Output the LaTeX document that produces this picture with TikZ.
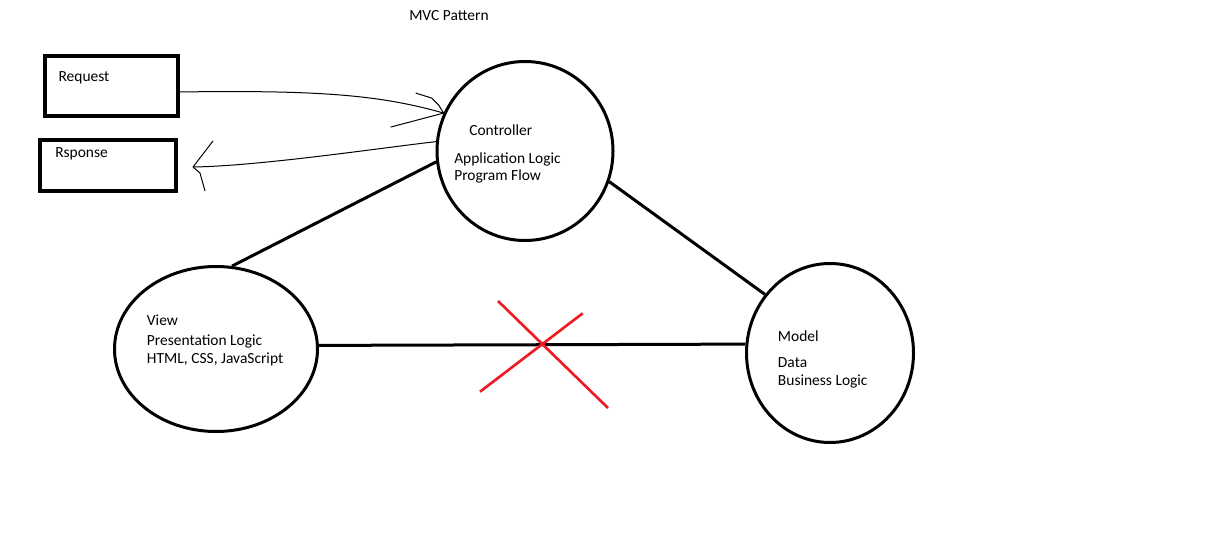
\documentclass[tikz,border=0pt]{standalone}
\usepackage{fontspec}
\setmainfont{Carlito}
\usetikzlibrary{shapes.geometric}
\usetikzlibrary{positioning}
\definecolor{xred}{RGB}{237,28,36}
\tikzset{
  blob/.style={draw,ellipse,line width=2.25pt,inner sep=0pt},
  box/.style={draw,rectangle,line width=3pt,inner sep=0pt},
  lbl/.style={anchor=base west,inner sep=0pt,font=\fontsize{11.6}{14}\selectfont},
  link/.style={line width=2.25pt},
  wire/.style={line width=0.75pt},
  cross/.style={draw=xred,line width=2pt}
}

\begin{document}
\begin{tikzpicture}[x=0.75pt,y=-0.75pt]
      \useasboundingbox (0,0) rectangle (1230,545);
      \node[lbl] (title) at (409,21) {MVC Pattern};
      % boxes
      \node[box,minimum width=99.5pt,minimum height=44.5pt] (req) at (111.7,86) {};
      \node[box,minimum width=101.5pt,minimum height=38.25pt] (resp) at (108,165.2) {};
      \node[lbl] (reqtext) at (58.3,81.7) {Request};
      \node[lbl] (resptext) at (55,157.3) {Rsponse};
      % the three parts
      \node[blob,minimum width=132pt,minimum height=134.25pt] (ctrl) at (525,151) {};
      \node[blob,minimum width=152.25pt,minimum height=123.75pt] (view) at (216,349) {};
      \node[blob,minimum width=125.25pt,minimum height=134.25pt] (model) at (830,353) {};
      \node[lbl] (ctrlname) at (469,136) {Controller};
      \node[lbl] (ctrlline1) at (454,163.3) {Application Logic};
      \node[lbl] (ctrlline2) at (454,180.7) {Program Flow};
      \node[lbl] (viewname) at (146.7,325) {View};
      \node[lbl] (viewline1) at (146.7,345) {Presentation Logic};
      \node[lbl] (viewline2) at (146.7,363) {HTML, CSS, JavaScript};
      \node[lbl] (modelname) at (777.7,341.7) {Model};
      \node[lbl] (modelline1) at (777.7,367.7) {Data};
      \node[lbl] (modelline2) at (777.7,385) {Business Logic};
      \draw[link] (ctrl.187) -- (view.79)
                  (ctrl.340) -- (model.138)
                  (view.2) -- (model.174);
      \draw[cross] (498,301) -- (608,408) (480,391.7) -- (582.7,313.3);
      % request / response
      \coordinate (reqtip) at (ctrl.155);
      \coordinate (resptip) at (193,167);
      \draw[wire] (req.-5) .. controls (320,90) and (380,95) .. (reqtip);
      \draw[wire] (reqtip) -- ++(-5,-8) -- ++(-7,-7) -- ++(-16,-5)
                  (reqtip) -- ++(-53,14);
      \draw[wire] (ctrl.174) .. controls (380,148) and (260,166) .. (resptip);
      \draw[wire] (resptip) -- ++(20,-26)
                  (resptip) -- ++(7,6) -- ++(5,18);
    \end{tikzpicture}
\end{document}
